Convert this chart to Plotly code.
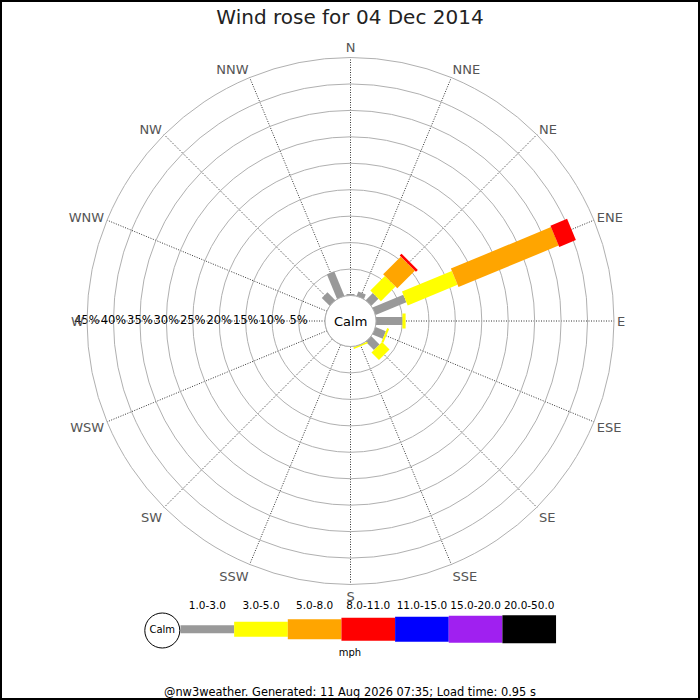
import plotly.graph_objects as go

# wind rose data: percentage of time per direction and speed class
directions = ["N", "NNE", "NE", "ENE", "E", "ESE", "SE", "SSE",
              "S", "SSW", "SW", "WSW", "W", "WNW", "NW", "NNW"]
speed_bins = ["1.0-3.0", "3.0-5.0", "5.0-8.0", "8.0-11.0",
              "11.0-15.0", "15.0-20.0", "20.0-50.0"]

pct_1_3 = [0.3, 0.9, 1.9, 6.3, 5.0, 2.1, 2.2, 0.0, 0, 0, 0, 0, 0, 0, 2.1, 5.0]
pct_3_5 = [0, 0, 3.9, 10.2, 0.6, 0.4, 2.0, 0.3, 0, 0, 0, 0, 0, 0, 0, 0]
pct_5_8 = [0, 0, 4.7, 20.5, 0, 0, 0, 0, 0, 0, 0, 0, 0, 0, 0, 0]
pct_8_11 = [0, 0, 0.5, 3.4, 0, 0, 0, 0, 0, 0, 0, 0, 0, 0, 0, 0]
pct_11_15 = [0] * 16
pct_15_20 = [0] * 16
pct_20_50 = [0] * 16

radial_ticks = [5, 10, 15, 20, 25, 30, 35, 40, 45]

title_text = "Wind rose for 04 Dec 2014"
footer_text = "@nw3weather. Generated: 11 Aug 2026 07:35; Load time: 0.95 s"

# styling
bin_colors = ["#999999", "#ffff00", "#ffa500", "#ff0000",
              "#0000ff", "#a020f0", "#000000"]
bin_widths = [8, 15, 20, 23, 25, 27, 28]
FONT = "DejaVu Sans"

series = [pct_1_3, pct_3_5, pct_5_8, pct_8_11, pct_11_15, pct_15_20, pct_20_50]
angles = [i * 22.5 for i in range(len(directions))]

fig = go.Figure()

# calm circle (edge of the hole)
fig.add_trace(go.Scatterpolar(
    r=[0] * 73, theta=[i * 5 for i in range(73)],
    mode="lines", line=dict(color="#aaaaaa", width=1),
    hoverinfo="skip", showlegend=False,
))

# stacked spokes drawn as thick radial segments
base = [0.0] * len(directions)
for vals, color, width, label in zip(series, bin_colors, bin_widths, speed_bins):
    rr, tt = [], []
    for i, v in enumerate(vals):
        if v > 0:
            rr += [base[i], base[i] + v, None]
            tt += [angles[i], angles[i], None]
            base[i] += v
    if rr:
        fig.add_trace(go.Scatterpolar(
            r=rr, theta=tt, mode="lines", name=label,
            line=dict(color=color, width=width),
            showlegend=False,
        ))

# radial percent labels along the west axis
fig.add_trace(go.Scatterpolar(
    r=radial_ticks, theta=[270] * len(radial_ticks),
    mode="text", text=[f"{v}%" for v in radial_ticks],
    textposition="middle center",
    textfont=dict(family=FONT, size=11.5, color="black"),
    hoverinfo="skip", showlegend=False,
))

# ---- speed key below the rose (pixel-like cartesian axis) ----
key_x0, key_w, key_y = 180.5, 53.65, 629.3
for i, (label, color, width) in enumerate(zip(speed_bins, bin_colors, bin_widths)):
    xa = key_x0 + i * key_w
    fig.add_trace(go.Scatter(
        x=[xa, xa + key_w], y=[key_y, key_y], mode="lines",
        line=dict(color=color, width=width),
        xaxis="x", yaxis="y", hoverinfo="skip", showlegend=False,
    ))
fig.add_trace(go.Scatter(
    x=[key_x0 + (i + 0.5) * key_w for i in range(len(speed_bins))],
    y=[606.7] * len(speed_bins), mode="text", text=speed_bins,
    textfont=dict(family=FONT, size=10.5, color="black"),
    xaxis="x", yaxis="y", hoverinfo="skip", showlegend=False, cliponaxis=False,
))
fig.add_trace(go.Scatter(
    x=[162.3], y=[630.5], mode="markers+text", text=["Calm"],
    textposition="middle center",
    marker=dict(size=35, color="white", line=dict(color="black", width=1)),
    textfont=dict(family=FONT, size=10, color="black"),
    xaxis="x", yaxis="y", hoverinfo="skip", showlegend=False, cliponaxis=False,
))
fig.add_trace(go.Scatter(
    x=[350], y=[653.3], mode="text", text=["mph"],
    textfont=dict(family=FONT, size=10, color="black"),
    xaxis="x", yaxis="y", hoverinfo="skip", showlegend=False, cliponaxis=False,
))

W = H = 700
cx, cy, R = 350.5, 321.0, 263.5

fig.update_layout(
    width=W, height=H,
    margin=dict(l=0, r=0, t=0, b=0),
    paper_bgcolor="white", plot_bgcolor="white",
    font=dict(family=FONT, color="black"),
    title=dict(text=title_text, x=0.5, xanchor="center",
               y=1 - 17 / H, yanchor="middle",
               font=dict(family=FONT, size=20, color="#222222")),
    polar=dict(
        domain=dict(x=[(cx - R) / W, (cx + R) / W],
                    y=[1 - (cy + R) / H, 1 - (cy - R) / H]),
        hole=25.5 / R,
        bgcolor="white",
        radialaxis=dict(
            range=[0, 45], tickvals=radial_ticks, showticklabels=False,
            ticks="", showline=False, gridcolor="#b0b0b0", gridwidth=1,
        ),
        angularaxis=dict(
            rotation=90, direction="clockwise", thetaunit="degrees",
            tickmode="array", tickvals=angles, ticktext=directions,
            ticks="", showline=True, linecolor="#b0b0b0", linewidth=1,
            gridcolor="#333333", gridwidth=1, griddash="1px,1.5px",
            tickfont=dict(family=FONT, size=13, color="#555555"),
        ),
    ),
    xaxis=dict(domain=[0, 1], range=[0, 700], visible=False, fixedrange=True),
    yaxis=dict(domain=[0, 110 / H], range=[700, 590], visible=False,
               fixedrange=True),
    annotations=[
        dict(text="Calm", x=cx / W, y=1 - cy / H, xref="paper", yref="paper",
             showarrow=False, font=dict(family=FONT, size=13, color="black")),
        dict(text=footer_text, x=350 / W, y=1 - 691.7 / H, xref="paper",
             yref="paper", showarrow=False, yanchor="middle",
             font=dict(family=FONT, size=11.4, color="black")),
    ],
    shapes=[dict(type="rect", xref="paper", yref="paper", x0=0, x1=1, y0=0, y1=1,
                 line=dict(color="black", width=4))],
)

# drop the page's default body margin so the 700px figure fills the window
fig.write_html("out.html", config={"displayModeBar": False},
               post_script="document.body.style.margin='0';"
                           "document.body.style.overflow='hidden';")
